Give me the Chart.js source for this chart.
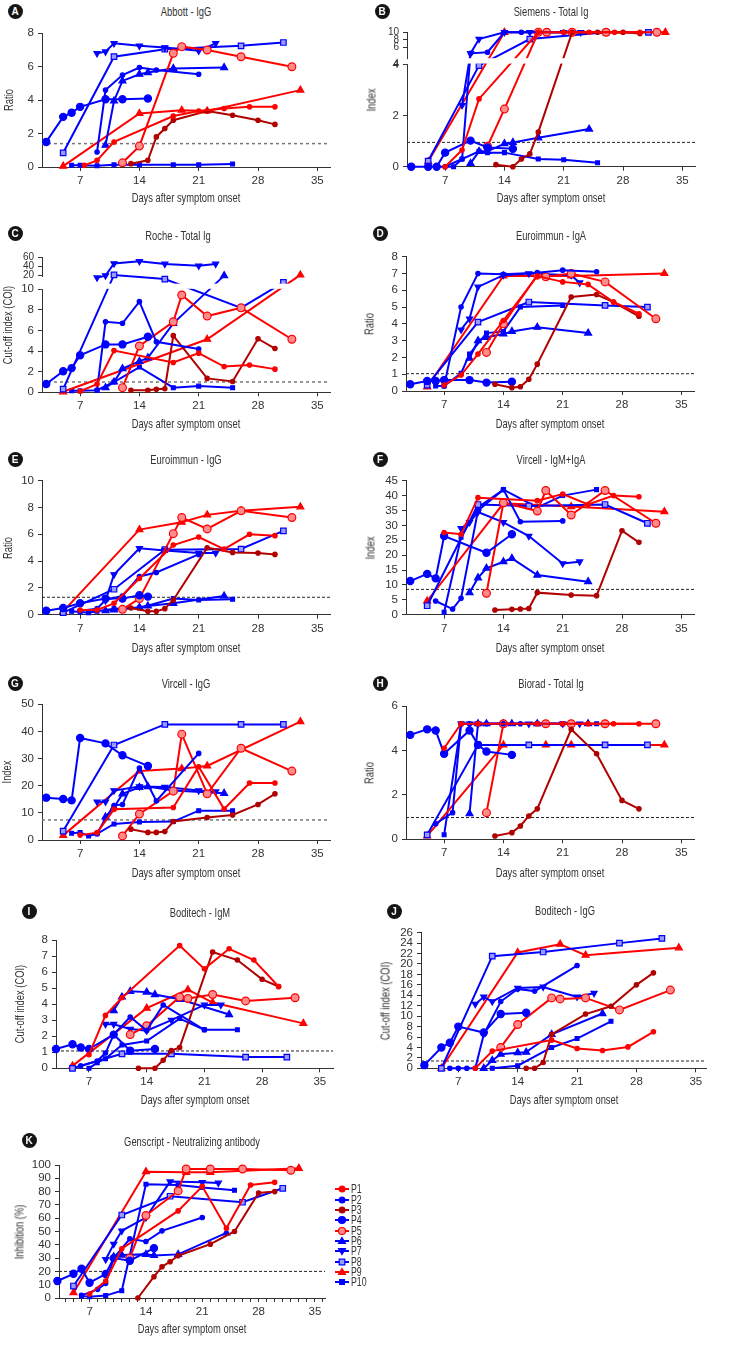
<!DOCTYPE html>
<html>
<head>
<meta charset="utf-8">
<title>Antibody kinetics by assay</title>
<script src="https://cdn.jsdelivr.net/npm/chart.js@4.4.1/dist/chart.umd.min.js"></script>
<style>
  body { margin: 0; background: #fff; }
  #page { position: relative; width: 746px; height: 1366px; overflow: hidden; background: #fff;
          font-family: 'Liberation Sans', Arial, sans-serif; color: #222; }
  canvas.panel { position: absolute; }
  .tag { position: absolute; width: 15px; height: 15px; margin: -7.5px 0 0 -7.5px; border-radius: 50%;
         background: #151515; color: #fff; font: bold 10px 'Liberation Sans', sans-serif; line-height: 15px; text-align: center; }
  .ttl, .xt { position: absolute; transform: translate(-50%, -50%) scaleX(0.72); font-size: 13px; white-space: nowrap; color: #333; }
  .yt { position: absolute; transform: translate(-50%, -50%) rotate(-90deg) scaleX(0.72); font-size: 13px; white-space: nowrap; color: #333; }
  .legend { position: absolute; left: 334px; top: 1184px; font-size: 12.5px; color: #333; }
  .legend div { height: 10.35px; display: flex; align-items: center; }
  .legend span { display: inline-block; transform: scaleX(0.7); transform-origin: 0 50%; }
  .legend canvas { margin-right: 1px; }
</style>
</head>
<body>
<div id="page"></div>
<script>
const patients = ['P1', 'P2', 'P3', 'P4', 'P5', 'P6', 'P7', 'P8', 'P9', 'P10'];

// [day, value] per patient, P1..P10
const abbottIgG = [
  [[7.5,0.1],[9,0.4],[11,1.5],[18,3.05],[21,3.35],[24,3.5],[27,3.6],[30,3.6]],
  [[9,0.9],[10,4.6],[12,5.5],[14,5.95],[16,5.8],[21,5.55]],
  [[13,0.2],[15,0.4],[16,1.8],[17,2.3],[18,2.8],[22,3.35],[25,3.1],[28,2.8],[30,2.55]],
  [[3,1.5],[5,3.0],[6,3.25],[7,3.6],[10,4.05],[12,4.05],[15,4.1]],
  [[12,0.25],[14,1.25],[18,6.8],[19,7.2],[22,7.0],[26,6.6],[32,6.0]],
  [[10,1.3],[11,3.95],[12,5.15],[14,5.55],[15,5.65],[18,5.9],[24,5.95]],
  [[9,6.8],[10,6.9],[11,7.4],[14,7.25],[17,7.15],[21,6.95],[23,7.4]],
  [[5,0.85],[11,6.6],[17,7.05],[26,7.25],[31,7.45]],
  [[5,0.05],[14,3.2],[19,3.4],[22,3.35],[33,4.6]],
  [[6,0.1],[7,0.1],[9,0.08],[11,0.13],[14,0.13],[18,0.13],[21,0.13],[25,0.18]]
];
const siemensTotalIg = [
  [[7,0],[9,0.65],[11,2.65],[18,10],[21,10],[24,10],[27,10],[30,10]],
  [[7,0],[9,0.3],[10,4.4],[12,4.7],[14,10],[16,10],[21,10]],
  [[13,0.08],[15,0],[16,0.3],[17,0.5],[18,1.35],[22,10],[25,10],[28,10],[30,9.7]],
  [[3,0],[5,0],[6,0],[7,0.55],[10,1.02],[12,0.75],[15,0.7]],
  [[12,0.8],[14,2.25],[18,10],[19,10],[22,10],[26,10],[32,10]],
  [[10,0.13],[11,0.6],[12,0.6],[14,0.9],[15,0.95],[18,1.13],[24,1.47]],
  [[9,2.4],[10,4.4],[11,8.2],[14,10],[17,10],[21,10],[23,10]],
  [[5,0.22],[11,3.95],[17,8.2],[26,10],[31,10]],
  [[5,0.2],[14,10],[33,10]],
  [[6,0],[8,0],[9,0.3],[11,0.6],[12,0.55],[14,0.55],[18,0.3],[21,0.27],[25,0.15]]
];
const rocheTotalIg = [
  [[7,0.1],[9,0.8],[11,4.05],[18,2.9],[21,3.8],[24,2.5],[27,2.65],[30,2.25]],
  [[9,0.2],[10,6.85],[12,6.7],[14,8.8],[16,4.9],[21,4.2]],
  [[13,0.2],[15,0.2],[16,0.3],[17,0.35],[18,5.5],[22,1.35],[25,1.05],[28,5.2],[30,4.25]],
  [[3,0.8],[5,2.05],[6,2.35],[7,3.6],[10,4.65],[12,4.65],[15,5.4]],
  [[12,0.45],[14,4.5],[18,6.85],[19,9.45],[22,7.4],[26,8.2],[32,5.15]],
  [[10,0.45],[11,1.0],[12,2.3],[14,3.0],[15,3.35],[18,6.7],[24,20]],
  [[9,18.5],[10,20],[11,47],[14,52],[17,46],[21,42],[23,46]],
  [[5,0.3],[11,21.5],[17,17.5],[26,8.2],[31,15]],
  [[5,0.05],[22,5.15],[33,21.5]],
  [[6,0.15],[7,0.15],[9,0.2],[11,1.0],[14,2.45],[18,0.45],[21,0.6],[25,0.45]]
];
const euroimmunIgA = [
  [[7,0.35],[9,0.95],[11,2.2],[14,4.2],[18,6.85],[21,6.5],[24,6.35],[27,5.3],[30,4.6]],
  [[7,0.3],[9,5.0],[11,7.0],[14,6.95],[18,7.05],[21,7.2],[25,7.1]],
  [[13,0.4],[15,0.2],[16,0.25],[17,0.7],[18,1.6],[22,5.6],[25,5.75],[27,5.3],[30,4.45]],
  [[3,0.4],[5,0.6],[6,0.6],[7,0.65],[10,0.65],[12,0.5],[15,0.55]],
  [[12,2.3],[14,4.0],[18,6.9],[19,6.8],[22,7.0],[26,6.5],[32,4.3]],
  [[10,1.95],[11,3.0],[12,3.2],[14,3.4],[15,3.55],[18,3.8],[24,3.45]],
  [[9,3.65],[10,4.3],[11,6.2],[14,6.9],[17,7.0],[22,6.9],[23,6.45]],
  [[5,0.35],[11,4.1],[17,5.3],[26,5.1],[31,5.0]],
  [[5,0.25],[14,6.85],[22,6.85],[33,7.0]],
  [[6,0.3],[7,0.3],[9,1.05],[10,2.2],[12,3.45],[14,3.55],[16,5.0],[21,5.1]]
];
const euroimmunIgG = [
  [[7,0.35],[9,0.35],[11,0.85],[14,2.7],[18,5.2],[21,5.8],[24,4.9],[27,6.0],[30,5.9]],
  [[7,0.3],[9,0.45],[10,1.1],[12,1.4],[14,2.85],[16,3.15],[21,4.5]],
  [[13,0.5],[15,0.25],[16,0.25],[17,0.45],[18,1.1],[22,5.0],[25,4.65],[28,4.6],[30,4.5]],
  [[3,0.3],[5,0.5],[7,0.85],[10,1.2],[12,1.2],[14,1.45],[15,1.35]],
  [[12,0.4],[14,1.2],[18,6.05],[19,7.25],[22,6.4],[26,7.75],[32,7.25]],
  [[10,0.3],[11,0.35],[14,0.55],[15,0.65],[18,0.85],[24,1.4]],
  [[10,1.05],[11,3.0],[14,4.95],[17,4.8],[21,4.6],[23,4.6]],
  [[5,0.15],[11,1.9],[17,4.85],[26,4.9],[31,6.25]],
  [[5,0.25],[14,6.35],[19,6.9],[22,7.45],[26,7.75],[33,8.05]],
  [[6,0.25],[7,0.2],[8,0.15],[9,0.25],[11,0.45],[14,0.5],[18,1.2],[21,1.1],[25,1.15]]
];
const vircellIgMIgA = [
  [[7,27.6],[9,27],[11,39.3],[18,38.3],[21,40.5],[24,37],[27,40],[30,39.6]],
  [[6,4.6],[8,1.9],[9,5.5],[11,35],[14,42],[16,31.2],[21,31.5]],
  [[13,1.6],[15,1.8],[16,1.9],[17,2.1],[18,7.4],[22,6.6],[25,6.4],[28,28.2],[30,24.3]],
  [[3,11.3],[5,13.7],[6,12.2],[7,26.4],[12,20.8],[15,27]],
  [[12,7.2],[14,37.6],[18,34.8],[19,41.7],[22,33.5],[26,41.7],[32,30.7]],
  [[10,7.4],[11,12.4],[12,15.6],[14,17.8],[15,18.9],[18,13.3],[24,11.1]],
  [[9,29],[10,31],[11,34.5],[14,31],[17,26.4],[21,17.2],[23,17.8]],
  [[5,3],[11,37],[17,36.5],[26,37],[31,30.7]],
  [[5,4.6],[14,37.4],[22,36.3],[33,34.6]],
  [[7,0.8],[9,26],[11,36],[14,42],[18,36],[21,40],[25,42]]
];
const vircellIgG = [
  [[7,1.8],[9,2.7],[11,11.3],[18,12],[21,27],[24,11.4],[27,21],[30,21]],
  [[9,2.3],[10,8],[11,12.7],[12,13.1],[14,26.5],[16,14.4],[21,31.9]],
  [[13,4],[15,2.8],[16,2.8],[17,3.1],[18,6.8],[22,8.3],[25,9.2],[28,13.1],[30,17]],
  [[3,15.6],[5,15.1],[6,14.6],[7,37.6],[10,35.6],[12,31.2],[15,27.3]],
  [[12,1.5],[14,9.6],[18,18],[19,39],[22,17],[26,33.8],[32,25.4]],
  [[10,8.5],[11,12],[12,17],[14,19.4],[15,19.7],[18,18.2],[24,17.2]],
  [[9,14.1],[10,14.1],[11,18.2],[14,19.7],[17,19.5],[21,18.2],[23,17.8]],
  [[5,3.3],[11,35],[17,42.6],[26,42.6],[31,42.6]],
  [[5,1.7],[14,25.4],[19,26.3],[22,27.3],[33,43.6]],
  [[6,2.5],[7,2.8],[8,1.5],[9,2.3],[11,5.9],[14,6.6],[18,6.8],[21,10.8],[25,10.8]]
];
const bioradTotalIg = [
  [[7,4.1],[9,5.2],[11,5.2],[18,5.2],[21,5.2],[24,5.2],[27,5.2],[30,5.2]],
  [[6,0.7],[8,1.2],[9,5.2],[10,5.2],[12,5.2],[14,5.2],[16,5.2],[21,5.2]],
  [[13,0.15],[15,0.3],[16,0.6],[17,1.05],[18,1.37],[22,4.95],[25,3.85],[28,1.75],[30,1.37]],
  [[3,4.7],[5,4.95],[6,4.9],[7,3.85],[10,4.9],[11,4.25],[12,3.95],[15,3.8]],
  [[12,1.2],[14,5.2],[19,5.2],[22,5.2],[26,5.2],[32,5.2]],
  [[10,1.15],[11,5.2],[12,5.2],[14,5.2],[15,5.2],[18,5.2],[24,5.2]],
  [[9,5.2],[10,5.2],[11,5.2],[14,5.2],[17,5.2],[21,5.2],[23,5.2]],
  [[5,0.2],[11,4.25],[17,4.25],[26,4.25],[31,4.25]],
  [[5,0.15],[14,4.25],[19,4.25],[22,4.25],[33,4.25]],
  [[7,0.2],[9,5.2],[11,5.2],[14,5.2],[18,5.2],[21,5.2],[25,5.2]]
];
const boditechIgM = [
  [[7,0.85],[9,3.3],[11,4.4],[18,7.65],[21,6.2],[24,7.45],[27,6.75],[30,5.1]],
  [[6,0.15],[8,0.45],[9,0.95],[10,2.1],[12,3.2],[14,2.35],[16,3.95],[21,2.4]],
  [[13,0],[15,0],[16,0.5],[17,1.1],[18,1.3],[22,7.25],[25,6.75],[28,5.55],[30,5.1]],
  [[3,1.2],[5,1.5],[6,1.3],[7,1.2],[10,2.1],[12,1.1],[15,1.2]],
  [[12,2.1],[14,2.65],[18,4.45],[19,4.35],[22,4.6],[26,4.2],[32,4.4]],
  [[10,3.6],[11,4.45],[12,4.8],[14,4.75],[15,4.6],[18,4.3],[24,3.35]],
  [[9,2.75],[10,2.75],[12,2.45],[14,2.35],[17,3.0],[21,3.95],[23,3.95]],
  [[5,0],[11,0.9],[17,0.9],[26,0.7],[31,0.7]],
  [[5,0.15],[14,3.75],[19,4.9],[22,4.1],[33,2.8]],
  [[7,0],[8,0.35],[9,0.6],[11,1.45],[14,1.7],[18,3.1],[21,2.4],[25,2.4]]
];
const boditechIgG = [
  [[9,0],[11,3.3],[18,5.4],[21,3.8],[24,3.4],[27,4.1],[30,7.0]],
  [[6,0],[7,0],[8,0],[9,0],[10,6.5],[12,12.8],[14,15.2],[16,14.8],[21,19.7]],
  [[15,0],[16,0],[17,1.1],[18,6.5],[22,10.4],[25,11.9],[28,16],[30,18.3]],
  [[3,0.6],[5,4.0],[6,4.9],[7,8.0],[10,6.85],[12,10.4],[15,10.65]],
  [[12,4],[14,8.4],[18,13.5],[19,13.3],[22,13.5],[26,11.2],[32,15]],
  [[10,0],[11,1.5],[12,2.7],[14,3.0],[15,3.1],[18,6.5],[24,10.5]],
  [[9,12.3],[10,13.7],[11,12.8],[14,15.4],[17,15.6],[21,13.7],[23,14.4]],
  [[5,0],[11,21.5],[17,22.3],[26,24],[31,24.9]],
  [[5,0],[14,22.2],[19,23.8],[22,21.7],[33,23.1]],
  [[11,0],[14,0.5],[18,4.0],[21,5.7],[25,9.0]]
];
const genscriptNAb = [
  [[7,3],[9,12.8],[11,37],[18,65.5],[21,84],[24,52.5],[27,85],[30,87]],
  [[6,2],[8,6.5],[9,11],[10,30],[12,44.5],[14,42.5],[16,50.5],[21,60.5]],
  [[13,0],[15,16],[16,23.5],[17,27.3],[18,31.8],[22,40.5],[25,50],[28,79],[30,80]],
  [[3,12.8],[5,18.2],[6,22],[7,11.5],[9,18],[10,30],[12,28],[15,37.5]],
  [[12,30],[14,62],[18,80.5],[19,97],[22,97],[26,97],[32,96]],
  [[10,31],[11,32.3],[14,32.8],[15,32],[18,32.8],[24,49]],
  [[9,29],[10,40.5],[11,50.5],[14,60.5],[17,87.5],[21,87],[23,86.5]],
  [[5,9],[11,62.4],[17,76.5],[26,72],[31,82.5]],
  [[5,4],[14,95],[19,94.5],[22,94.5],[33,97.5]],
  [[6,1.5],[7,1],[9,1.8],[11,5.5],[14,85.5],[18,85],[21,83],[25,81]]
];

const dayTicks = [7, 14, 21, 28, 35];
const dayTicksMinor = [4,5,6,7,8,9,10,11,12,13,14,15,16,17,18,19,20,21,22,23,24,25,26,27,28,29,30,31,32,33,34,35,36];

const RED = '#ff0000', BLUE = '#0000ff', DARKRED = '#b00000';
const lineColor = [RED, BLUE, DARKRED, BLUE, RED, BLUE, BLUE, BLUE, RED, BLUE];
const fillColor = [RED, BLUE, DARKRED, BLUE, '#ff8c8c', BLUE, BLUE, '#9a9aff', RED, BLUE];
const marker = ['circle', 'circle', 'circle', 'circle', 'circle', 'triangle', 'triangle', 'rect', 'triangle', 'rect'];
const markerSize = [2.2, 2.2, 2.2, 3.6, 3.9, 4, 3.5, 3.9, 4, 2.7];
const markerTurn = [0, 0, 0, 0, 0, 0, 180, 0, 0, 0];
const FONT = "'Liberation Sans', Arial, sans-serif";

// broken axes: the upper part is squeezed
const siemensY = v => v <= 4 ? v : 4.37 + (v - 4) * 0.147;
const rocheY = v => v <= 10 ? v : v <= 20 ? 10 + (v - 10) * 0.133 : 11.33 + (v - 20) * 0.0435;

const panels = [
  { tag: 'A', title: 'Abbott - IgG', yTitle: 'Ratio', series: abbottIgG, left: 0, L: 42, R: 330, T: 33.3, B: 167, xT: 197, yTx: 8,
    tagAt: [15, 11], titleAt: [186, 11], yTicks: [0, 2, 4, 6, 8], cut: 1.4, cutColor: '#777' },
  { tag: 'B', title: 'Siemens - Total Ig', yTitle: 'Index', series: siemensTotalIg, left: 360, L: 407, R: 695, T: 32.3, B: 166.7, xT: 197, yTx: 371,
    tagAt: [382, 11], titleAt: [551, 11], yTicks: [0, 2, 4, 4, 6, 8, 10], small: 3, toY: siemensY, gap: [4.03, 4.24, 4.01, 4.2], cut: 0.95 },
  { tag: 'C', title: 'Roche - Total Ig', yTitle: 'Cut-off index (COI)', series: rocheTotalIg, left: 0, L: 42, R: 330, T: 257.7, B: 392.3, xT: 423, yTx: 7,
    tagAt: [15, 233], titleAt: [178, 235], yTicks: [0, 2, 4, 6, 8, 10, 20, 40, 60], small: 6, toY: rocheY, gap: [10.05, 10.55, 10.02, 11.2], cut: 1.0, cutColor: '#777' },
  { tag: 'D', title: 'Euroimmun - IgA', yTitle: 'Ratio', series: euroimmunIgA, left: 360, L: 406, R: 694, T: 256.7, B: 391, xT: 423, yTx: 369,
    tagAt: [380, 233], titleAt: [551, 235], yTicks: [0, 1, 2, 3, 4, 5, 6, 7, 8], cut: 1.03 },
  { tag: 'E', title: 'Euroimmun - IgG', yTitle: 'Ratio', series: euroimmunIgG, left: 0, L: 42, R: 330, T: 480.7, B: 614.7, xT: 647, yTx: 7,
    tagAt: [15, 459], titleAt: [186, 459], yTicks: [0, 2, 4, 6, 8, 10], cut: 1.3 },
  { tag: 'F', title: 'Vircell - IgM+IgA', yTitle: 'Index', series: vircellIgMIgA, left: 360, L: 406, R: 694, T: 480.7, B: 614.7, xT: 647, yTx: 370,
    tagAt: [380, 459], titleAt: [551, 459], yTicks: [0, 5, 10, 15, 20, 25, 30, 35, 40, 45], cut: 8.5 },
  { tag: 'G', title: 'Vircell - IgG', yTitle: 'Index', series: vircellIgG, left: 0, L: 42, R: 330, T: 704.3, B: 840, xT: 872, yTx: 6,
    tagAt: [15, 683], titleAt: [186, 683], yTicks: [0, 10, 20, 30, 40, 50], cut: 7.4, cutColor: '#777' },
  { tag: 'H', title: 'Biorad - Total Ig', yTitle: 'Ratio', series: bioradTotalIg, left: 360, L: 406, R: 694, T: 706, B: 839.3, xT: 872, yTx: 369,
    tagAt: [380, 683], titleAt: [551, 683], yTicks: [0, 2, 4, 6], cut: 0.98 },
  { tag: 'I', title: 'Boditech - IgM', yTitle: 'Cut-off index (COI)', series: boditechIgM, left: 0, L: 56, R: 333, T: 940, B: 1068.3, xT: 1099, yTx: 19,
    xMin: 3, xMax: 36.6, tagAt: [29, 911], titleAt: [200, 912], yTicks: [0, 1, 2, 3, 4, 5, 6, 7, 8], cut: 1.08 },
  { tag: 'J', title: 'Boditech - IgG', yTitle: 'Cut-off index (COI)', series: boditechIgG, left: 360, L: 421, R: 706, T: 932.7, B: 1068.3, xT: 1099, yTx: 385,
    xMin: 2.6, xMax: 36.2, tagAt: [394, 911], titleAt: [565, 910], yTicks: [0, 2, 4, 6, 8, 10, 12, 14, 16, 18, 20, 22, 24, 26], cut: 1.4 },
  { tag: 'K', title: 'Genscript - Neutralizing antibody', yTitle: 'Inhibition (%)', series: genscriptNAb, left: 0, L: 59, R: 325, T: 1165, B: 1298, xT: 1328, yTx: 19,
    xMin: 3.2, xMax: 36.25, xTicks: dayTicksMinor, tagAt: [29, 1140], titleAt: [192, 1141], yTicks: [0, 10, 20, 30, 40, 50, 60, 70, 80, 90, 100], cut: 20 }
];

const axisBreak = {
  id: 'axisBreak',
  afterDatasetsDraw(chart, args, opts) {
    if (!opts || !opts.band) return;
    const y = chart.scales.y, a = chart.chartArea, ctx = chart.ctx;
    const [from, to, axFrom, axTo] = opts.band;
    ctx.save();
    ctx.fillStyle = '#fff';
    const y1 = y.getPixelForValue(to), y2 = y.getPixelForValue(from);
    ctx.fillRect(a.left + 1, y1, a.right - a.left, y2 - y1);
    const ay1 = y.getPixelForValue(axTo), ay2 = y.getPixelForValue(axFrom);
    ctx.fillRect(a.left - 2, ay1, 4, ay2 - ay1);
    ctx.restore();
  }
};

const page = document.getElementById('page');

function addText(cls, text, x, y) {
  const d = document.createElement('div');
  d.className = cls;
  d.textContent = text;
  d.style.left = x + 'px';
  d.style.top = y + 'px';
  page.appendChild(d);
}

function makePanel(p) {
  const toY = p.toY || (v => v);
  const xMin = p.xMin ?? 2.5, xMax = p.xMax ?? 36.5;
  const xTicks = p.xTicks || dayTicks;
  const top = Math.floor(p.T) - 12;
  const width = p.left === 0 ? 373 : 386;
  const height = Math.ceil(p.xT - 6 - top);

  const cv = document.createElement('canvas');
  cv.className = 'panel';
  cv.width = width;
  cv.height = height;
  cv.style.left = p.left + 'px';
  cv.style.top = top + 'px';
  page.appendChild(cv);

  addText('tag', p.tag, p.tagAt[0], p.tagAt[1]);
  addText('ttl', p.title, p.titleAt[0], p.titleAt[1]);
  addText('xt', 'Days after symptom onset', (p.L + p.R) / 2, p.xT);
  addText('yt', p.yTitle, p.yTx, (p.T + p.B) / 2);

  const sets = p.series.map((pts, i) => ({
    label: patients[i],
    data: pts.map(([d, v]) => ({ x: d, y: toY(v) })),
    showLine: true,
    borderColor: lineColor[i],
    backgroundColor: fillColor[i],
    borderWidth: 2,
    pointStyle: marker[i],
    pointRadius: markerSize[i],
    pointRotation: markerTurn[i],
    pointBorderColor: lineColor[i],
    pointBorderWidth: 1.2,
    clip: false
  }));
  sets.push({
    label: 'cut-off',
    data: [{ x: xMin, y: toY(p.cut) }, { x: xMax, y: toY(p.cut) }],
    showLine: true,
    borderColor: p.cutColor || '#222',
    borderWidth: p.cutColor ? 1.5 : 1,
    borderDash: p.cutColor ? [3, 3] : [3, 2],
    pointRadius: 0
  });

  new Chart(cv, {
    type: 'scatter',
    data: { datasets: sets },
    plugins: [axisBreak],
    options: {
      responsive: false,
      animation: false,
      events: [],
      layout: { padding: { left: 0, right: width - (p.R - p.left), top: p.T - top, bottom: 0 } },
      plugins: {
        legend: { display: false },
        tooltip: { enabled: false },
        axisBreak: { band: p.gap || null }
      },
      scales: {
        x: {
          type: 'linear', min: xMin, max: xMax,
          afterFit: s => { s.height = height - (p.B - top); },
          afterBuildTicks: s => { s.ticks = xTicks.map(v => ({ value: v })); },
          ticks: {
            autoSkip: false, maxRotation: 0, padding: 3, color: '#333',
            font: { family: FONT, size: 11.5 },
            callback: v => v % 7 === 0 ? String(v) : ''
          },
          grid: { drawOnChartArea: false, drawTicks: true, tickLength: 4, tickColor: '#333' },
          border: { color: '#333', width: 1 }
        },
        y: {
          type: 'linear', min: 0, max: toY(p.yTicks[p.yTicks.length - 1]),
          afterFit: s => { s.width = p.L - p.left; },
          afterBuildTicks: s => { s.ticks = p.yTicks.map(v => ({ value: toY(v) })); },
          ticks: {
            autoSkip: false, padding: 4, color: '#333',
            font: c => ({ family: FONT, size: (p.small !== undefined && c.index >= p.small) ? 10 : 11.5 }),
            callback: (v, i) => String(p.yTicks[i])
          },
          grid: { drawOnChartArea: false, drawTicks: true, tickLength: 4, tickColor: '#333' },
          border: { color: '#333', width: 1 }
        }
      }
    }
  });
}

panels.forEach(makePanel);

// legend for the patients, beside panel K
function glyph(i) {
  const c = document.createElement('canvas');
  c.width = 16;
  c.height = 10;
  const g = c.getContext('2d');
  g.strokeStyle = lineColor[i];
  g.lineWidth = 2;
  g.beginPath(); g.moveTo(1, 5); g.lineTo(15, 5); g.stroke();
  g.fillStyle = fillColor[i];
  g.lineWidth = 1.2;
  const r = Math.max(3, Math.min(markerSize[i], 3.5));
  g.beginPath();
  if (marker[i] === 'circle') g.arc(8, 5, r, 0, Math.PI * 2);
  else if (marker[i] === 'rect') g.rect(8 - r * 0.8, 5 - r * 0.8, r * 1.6, r * 1.6);
  else {
    const s = markerTurn[i] ? -1 : 1;
    g.moveTo(8, 5 - s * r); g.lineTo(8 + r, 5 + s * r * 0.7); g.lineTo(8 - r, 5 + s * r * 0.7); g.closePath();
  }
  g.fill(); g.stroke();
  return c;
}

const legend = document.createElement('div');
legend.className = 'legend';
patients.forEach((name, i) => {
  const row = document.createElement('div');
  row.appendChild(glyph(i));
  const t = document.createElement('span');
  t.textContent = name;
  row.appendChild(t);
  legend.appendChild(row);
});
page.appendChild(legend);
</script>
</body>
</html>
